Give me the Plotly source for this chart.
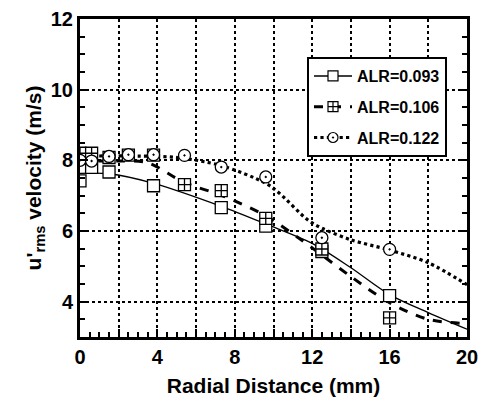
import plotly.graph_objects as go

# Measured points
x093 = [0, 0.6, 1.5, 3.8, 7.3, 9.6, 12.5, 16]
y093 = [7.42, 7.80, 7.67, 7.28, 6.66, 6.14, 5.42, 4.17]
x106 = [0, 0.6, 1.5, 2.5, 3.8, 5.4, 7.3, 9.6, 12.5, 16]
y106 = [8.20, 8.20, 8.08, 8.15, 8.15, 7.31, 7.14, 6.36, 5.49, 3.54]
x122 = [0, 0.6, 1.5, 2.5, 3.8, 5.4, 7.3, 9.6, 12.5, 16]
y122 = [8.00, 7.98, 8.11, 8.16, 8.16, 8.14, 7.81, 7.53, 5.81, 5.48]

# Fitted curves
fx093 = [0, 1.5, 3.8, 7.3, 9.6, 12, 14, 16, 18, 20]
fy093 = [7.63, 7.62, 7.35, 6.70, 6.20, 5.65, 4.96, 4.20, 3.69, 3.22]
fx106 = [0, 2, 3.5, 5.4, 7.3, 9.6, 11.3, 12.5, 14, 16, 18, 20]
fy106 = [7.98, 7.98, 7.93, 7.37, 7.01, 6.43, 5.80, 5.32, 4.71, 3.97, 3.50, 3.38]
fx122 = [0, 3, 5, 7.3, 9.6, 10.3, 11.8, 12.5, 14, 16, 18, 20]
fy122 = [8.12, 8.12, 8.08, 7.85, 7.35, 7.07, 6.30, 6.08, 5.75, 5.46, 5.10, 4.48]

labels = ["ALR=0.093", "ALR=0.106", "ALR=0.122"]
xtickvals = [0, 2, 4, 6, 8, 10, 12, 14, 16, 18, 20]
xticktext = ["0", "", "4", "", "8", "", "12", "", "16", "", "20"]
ytickvals = [4, 6, 8, 10, 12]
yticktext = ["4", "6", "8", "10", "12"]

FONT = "Liberation Sans, Arial, sans-serif"
styles = [
    dict(dash="solid", width=1.3, symbol="square"),
    dict(dash="dash", width=3, symbol="square-cross"),
    dict(dash="dot", width=3.2, symbol="circle-dot"),
]

L, R, T, B = 80, 17, 19, 69
W, H = 484, 406
pw, ph = W - L - R, H - T - B

def px2x(p):
    return (p - L) / pw

def px2y(p):
    return (H - B - p) / ph

fig = go.Figure()
fits = [(fx093, fy093), (fx106, fy106), (fx122, fy122)]
pts = [(x093, y093), (x106, y106), (x122, y122)]
for (fx, fy), st in zip(fits, styles):
    fig.add_trace(go.Scatter(x=fx, y=fy, mode="lines", showlegend=False,
                             line=dict(color="black", width=st["width"], dash=st["dash"],
                                       shape="spline", smoothing=0.9)))
for (px, py), st in zip(pts, styles):
    fig.add_trace(go.Scatter(x=px, y=py, mode="markers", showlegend=False,
                             marker=dict(symbol=st["symbol"], size=12, color="white",
                                         line=dict(color="black", width=1.3))))
for i, (lab, st) in enumerate(zip(labels, styles)):
    fig.add_trace(go.Scatter(x=[None], y=[None], mode="lines+markers", name=lab,
                             legendgroup="g%d" % i,
                             line=dict(color="black", width=st["width"] if st["dash"] != "solid" else 1.5,
                                       dash=st["dash"]),
                             marker=dict(symbol=st["symbol"], size=10, color="white",
                                         line=dict(color="black", width=1.2))))

# legend shadow
fig.add_shape(type="rect", xref="paper", yref="paper",
              x0=px2x(310), x1=px2x(444.5),
              y0=px2y(155.5), y1=px2y(60),
              fillcolor="#444444", line=dict(width=0), layer="above")

fig.update_layout(
    width=W, height=H,
    margin=dict(l=L, r=R, t=T, b=B, autoexpand=False),
    paper_bgcolor="white", plot_bgcolor="white",
    font=dict(family=FONT, color="black", size=20, weight="bold"),
    legend=dict(x=px2x(307), y=px2y(57), xanchor="left", yanchor="top",
                bgcolor="white", bordercolor="black", borderwidth=2,
                font=dict(size=16, family=FONT, weight="bold"),
                itemwidth=38, tracegroupgap=7),
    xaxis=dict(range=[0, 20], tickvals=xtickvals, ticktext=xticktext,
               showline=True, linecolor="black", linewidth=3, mirror=True,
               ticks="inside", ticklen=8, tickwidth=2, tickcolor="black",
               showgrid=True, gridcolor="black", gridwidth=2, griddash="dot",
               zeroline=False,
               minor=dict(dtick=0.5, ticks="inside", ticklen=5, tickwidth=2, tickcolor="black", showgrid=False),
               tickfont=dict(size=20, family=FONT, weight="bold"),
               title=dict(text="Radial Distance (mm)", font=dict(size=21, family=FONT, weight="bold"), standoff=12)),
    yaxis=dict(range=[3, 12], tickvals=ytickvals, ticktext=yticktext,
               showline=True, linecolor="black", linewidth=3, mirror="ticks",
               ticks="inside", ticklen=8, tickwidth=2, tickcolor="black",
               showgrid=True, gridcolor="black", gridwidth=2, griddash="dot",
               zeroline=False,
               minor=dict(dtick=0.5, ticks="inside", ticklen=5, tickwidth=2, tickcolor="black", showgrid=False),
               tickfont=dict(size=20, family=FONT, weight="bold"),
               title=dict(text="u'<sub>rms</sub> velocity (m/s)", font=dict(size=21, family=FONT, weight="bold"), standoff=4)),
)
fig.write_html("out.html")
